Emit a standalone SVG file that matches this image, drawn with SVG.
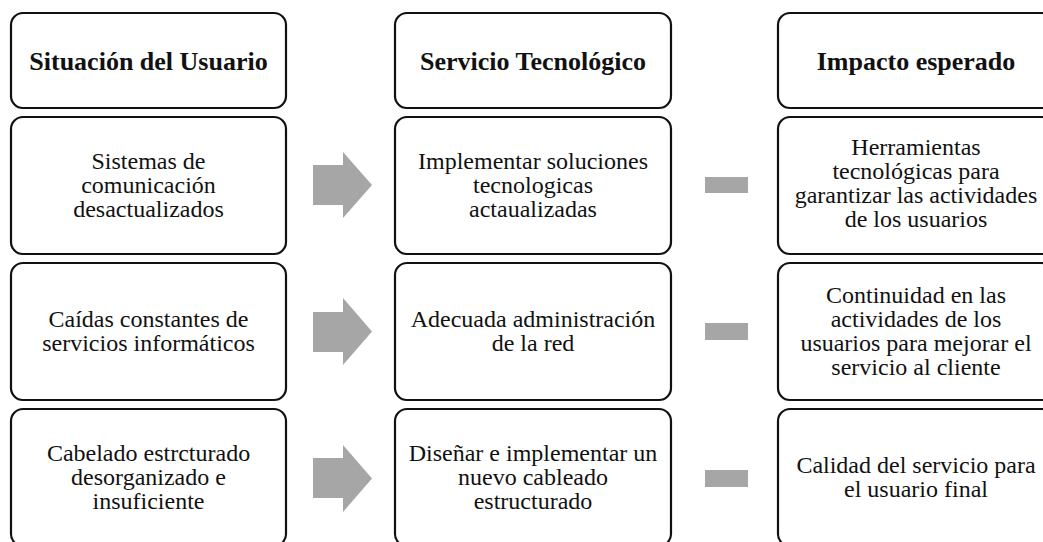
<svg xmlns="http://www.w3.org/2000/svg" width="1043" height="542" viewBox="0 0 1043 542">
<style>
.box{fill:#ffffff;stroke:#111111;stroke-width:2.2}
.t{font-family:"Liberation Serif","Times New Roman",serif;font-size:24px;fill:#111111;text-anchor:middle}
.h{font-family:"Liberation Serif","Times New Roman",serif;font-size:26px;font-weight:bold;fill:#111111;text-anchor:middle}
.arr{fill:#a6a6a6}
</style>
<rect width="1043" height="542" fill="#ffffff"/>
<g id="h1"><rect class="box" x="11" y="13" width="275" height="95" rx="12"/><text class="h" x="148.5" y="70">Situación del Usuario</text></g>
<g id="h2"><rect class="box" x="395" y="13" width="276" height="95" rx="12"/><text class="h" x="533" y="70">Servicio Tecnológico</text></g>
<g id="h3"><rect class="box" x="778" y="13" width="276" height="95" rx="12"/><text class="h" x="916" y="70">Impacto esperado</text></g>

<g id="s1"><rect class="box" x="11" y="117" width="275" height="137" rx="12"/><text class="t" x="148.5" y="169">Sistemas de</text><text class="t" x="148.5" y="193">comunicación</text><text class="t" x="148.5" y="217">desactualizados</text></g>
<g id="s2"><rect class="box" x="11" y="263" width="275" height="137" rx="12"/><text class="t" x="148.5" y="327">Caídas constantes de</text><text class="t" x="148.5" y="351">servicios informáticos</text></g>
<g id="s3"><rect class="box" x="11" y="409" width="275" height="137" rx="12"/><text class="t" x="148.5" y="461">Cabelado estrcturado</text><text class="t" x="148.5" y="485">desorganizado e</text><text class="t" x="148.5" y="509">insuficiente</text></g>

<g id="m1"><rect class="box" x="395" y="117" width="276" height="137" rx="12"/><text class="t" x="533" y="169">Implementar soluciones</text><text class="t" x="533" y="193">tecnologicas</text><text class="t" x="533" y="217">actaualizadas</text></g>
<g id="m2"><rect class="box" x="395" y="263" width="276" height="137" rx="12"/><text class="t" x="533" y="327">Adecuada administración</text><text class="t" x="533" y="351">de la red</text></g>
<g id="m3"><rect class="box" x="395" y="409" width="276" height="137" rx="12"/><text class="t" x="533" y="461">Diseñar e implementar un</text><text class="t" x="533" y="485">nuevo cableado</text><text class="t" x="533" y="509">estructurado</text></g>

<g id="r1"><rect class="box" x="778" y="117" width="276" height="137" rx="12"/><text class="t" x="916" y="155">Herramientas</text><text class="t" x="916" y="179">tecnológicas para</text><text class="t" x="916" y="203">garantizar las actividades</text><text class="t" x="916" y="227">de los usuarios</text></g>
<g id="r2"><rect class="box" x="778" y="263" width="276" height="137" rx="12"/><text class="t" x="916" y="303">Continuidad en las</text><text class="t" x="916" y="327">actividades de los</text><text class="t" x="916" y="351">usuarios para mejorar el</text><text class="t" x="916" y="375">servicio al cliente</text></g>
<g id="r3"><rect class="box" x="778" y="409" width="276" height="137" rx="12"/><text class="t" x="916" y="473">Calidad del servicio para</text><text class="t" x="916" y="497">el usuario final</text></g>

<g id="connectors">
<polygon class="arr" points="313,165 343,165 343,152 372,185 343,218 343,205 313,205"/>
<polygon class="arr" points="313,312 343,312 343,298 372,331.5 343,365 343,352 313,352"/>
<polygon class="arr" points="313,458 343,458 343,445 372,478.5 343,512 343,498 313,498"/>
<rect class="arr" x="705" y="177" width="43" height="16"/>
<rect class="arr" x="705" y="323" width="43" height="17"/>
<rect class="arr" x="705" y="470" width="43" height="17"/>
</g>
</svg>
